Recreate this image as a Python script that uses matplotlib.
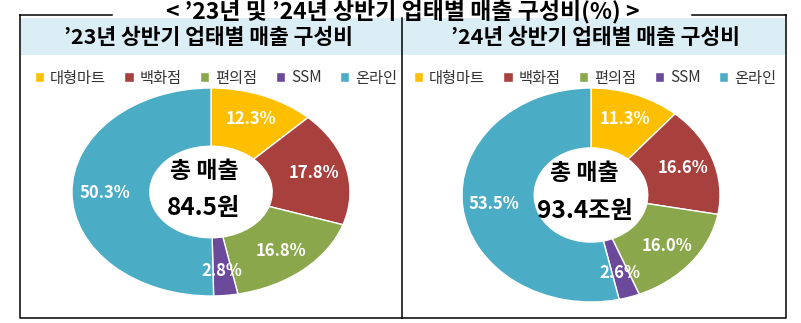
import matplotlib.pyplot as plt
from matplotlib.patches import Rectangle

plt.rcParams['font.family'] = ['Noto Sans CJK KR', 'DejaVu Sans']

categories = ["대형마트", "백화점", "편의점", "SSM", "온라인"]
share_23 = [12.3, 17.8, 16.8, 2.8, 50.3]
share_24 = [11.3, 16.6, 16.0, 2.6, 53.5]
totals = ["84.5원", "93.4조원"]
headers = ["’23년 상반기 업태별 매출 구성비", "’24년 상반기 업태별 매출 구성비"]
title = "< ’23년 및 ’24년 상반기 업태별 매출 구성비(%) >"

colors = ["#FDBF00", "#A8403E", "#8AA84B", "#6B4A9B", "#4BACC6"]

W, H = 801, 323
fig = plt.figure(figsize=(W / 100, H / 100), dpi=100)


def px(x, y):
    # pixel coords (top-left origin) -> figure fraction
    return x / W, 1 - y / H


# frame, header band, divider
bg = fig.add_axes([0, 0, 1, 1])
bg.set_xlim(0, W)
bg.set_ylim(H, 0)
bg.axis("off")
bg.add_patch(Rectangle((21, 18), 764, 37, facecolor="#DCEEF5", edgecolor="none"))
lw = 1.1
bg.plot([20, 20, 786, 786], [15, 318, 318, 15], color="black", lw=lw)
bg.plot([20, 112], [15, 15], color="black", lw=lw)
bg.plot([692, 786], [15, 15], color="black", lw=lw)
bg.plot([402, 402], [18, 318], color="black", lw=lw)

bg.text(403, 12, title, ha="center", va="center", fontsize=16.5, fontweight="bold")
bg.text(208, 37, headers[0], ha="center", va="center", fontsize=15.5, fontweight="bold")
bg.text(595, 37, headers[1], ha="center", va="center", fontsize=15.5, fontweight="bold")

panels = [
    (share_23, totals[0], (72, 88, 350, 296), 216),
    (share_24, totals[1], (462, 88, 720, 302), 595),
]

for values, total, (x0, y0, x1, y1), legx in panels:
    l, t = px(x0, y0)
    r, b = px(x1, y1)
    ax = fig.add_axes([l, b, r - l, t - b])
    wedges, _, autotexts = ax.pie(
        values, colors=colors, startangle=90, counterclock=False,
        autopct="%.1f%%", pctdistance=0.76,
        wedgeprops=dict(width=0.56, edgecolor="white", linewidth=1),
    )
    ax.set_aspect("auto")
    ax.set_xlim(-1, 1)
    ax.set_ylim(-1, 1)
    for w in wedges:
        w.set_clip_on(False)
    for tx in autotexts:
        tx.set_color("white")
        tx.set_fontsize(12)
        tx.set_fontweight("bold")
    ax.text(-0.05, 0.2, "총 매출", ha="center", va="center", fontsize=16.5, fontweight="bold")
    ax.text(-0.05, -0.15, total, ha="center", va="center", fontsize=17.5, fontweight="bold")

    lx, ly = px(legx, 78)
    fig.legend(wedges, categories, loc="center", bbox_to_anchor=(lx, ly), ncol=5,
               frameon=False, fontsize=11, handlelength=0.6, handleheight=0.6,
               handletextpad=0.4, columnspacing=1.2, labelcolor="#333333")

fig.savefig("out.png", dpi=100)
